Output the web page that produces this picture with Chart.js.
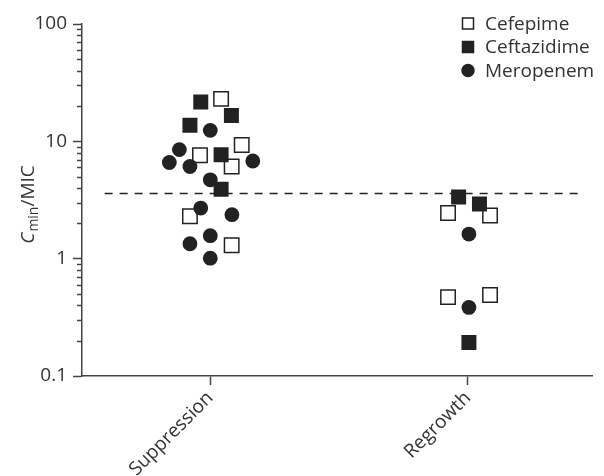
<!DOCTYPE html>
<html>
<head>
<meta charset="utf-8">
<script src="https://cdn.jsdelivr.net/npm/chart.js@4.4.0/dist/chart.umd.min.js"></script>
<style>
	html, body { margin: 0; padding: 0; background: #fff; }
</style>
</head>
<body>
<canvas id="chart" width="604" height="476"></canvas>
<script>
// categories on the x axis (positions 1 and 2)
const categories = ["Suppression", "Regrowth"];
const seriesNames = ["Cefepime", "Ceftazidime", "Meropenem"];

// x = category position plus horizontal scatter, y = Cmin/MIC
const cefepimeX = [1.042, 1.122, 0.960, 1.083, 0.921, 1.083, 1.923, 2.086, 1.923, 2.086];
const cefepimeY = [23.0, 9.3, 7.6, 6.1, 2.3, 1.3, 2.45, 2.33, 0.47, 0.49];

const ceftazidimeX = [0.963, 1.082, 0.921, 1.042, 1.042, 1.964, 2.045, 2.004];
const ceftazidimeY = [21.6, 16.6, 13.7, 7.7, 3.9, 3.36, 2.93, 0.193];

const meropenemX = [1.0, 0.880, 0.841, 0.921, 1.165, 1.0, 0.963, 1.084, 1.0, 0.921, 1.0, 2.004, 2.004];
const meropenemY = [12.4, 8.5, 6.6, 6.1, 6.8, 4.7, 2.7, 2.37, 1.57, 1.34, 1.01, 1.62, 0.384];

// dashed threshold line
const thresholdX = [0.59, 2.43];
const thresholdY = 3.6;

const yTickValues = [0.1, 1, 10, 100];
const yTickLabels = ["0.1", "1", "10", "100"];

const INK = "#222";
const TEXT = "#333";
const FONT = "'Open Sans', sans-serif";
const FONT_SIZE = 19;

function toPoints(xs, ys) {
	return xs.map(function (x, i) { return { x: x, y: ys[i] }; });
}

// minor ticks between decades, drawn shorter than the major ones
const minorTicks = {
	id: "minorTicks",
	afterDraw(chart) {
		const y = chart.scales.y;
		const ctx = chart.ctx;
		ctx.save();
		ctx.strokeStyle = "#444";
		ctx.lineWidth = 1.5;
		for (let i = 0; i < yTickValues.length - 1; i++) {
			for (let k = 2; k < 10; k++) {
				const py = Math.round(y.getPixelForValue(yTickValues[i] * k)) + 0.5;
				ctx.beginPath();
				ctx.moveTo(y.right - 5, py);
				ctx.lineTo(y.right, py);
				ctx.stroke();
			}
		}
		ctx.restore();
	}
};

// y axis title with italic C and subscript "min"
const yTitle = {
	id: "yTitle",
	afterDraw(chart) {
		const ctx = chart.ctx;
		const area = chart.chartArea;
		ctx.save();
		ctx.translate(28, (area.top + area.bottom) / 2 + 5);
		ctx.rotate(-Math.PI / 2);
		ctx.fillStyle = TEXT;
		ctx.textBaseline = "alphabetic";
		const big = FONT_SIZE + "px " + FONT;
		const bigItalic = "italic " + FONT_SIZE + "px " + FONT;
		const small = "14px " + FONT;
		ctx.font = bigItalic; const w1 = ctx.measureText("C").width;
		ctx.font = small; const w2 = ctx.measureText("min").width;
		ctx.font = big; const w3 = ctx.measureText("/MIC").width;
		let x = -(w1 + w2 + w3) / 2;
		ctx.font = bigItalic; ctx.fillText("C", x, 6); x += w1 + 1;
		ctx.font = small; ctx.fillText("min", x, 10); x += w2;
		ctx.font = big; ctx.fillText("/MIC", x, 6);
		ctx.restore();
	}
};

// legend in the top right corner
const cornerLegend = {
	id: "cornerLegend",
	afterDraw(chart) {
		const ctx = chart.ctx;
		ctx.save();
		ctx.font = FONT_SIZE + "px " + FONT;
		ctx.textBaseline = "middle";
		[0, 1, 2].forEach(function (di, row) {
			const ds = chart.data.datasets[di];
			const cy = 23.5 + row * 23.5;
			const cx = 468;
			ctx.lineWidth = 1.5;
			ctx.strokeStyle = INK;
			ctx.fillStyle = ds.backgroundColor;
			ctx.beginPath();
			if (ds.pointStyle === "circle") {
				ctx.arc(cx, cy, 6, 0, Math.PI * 2);
			} else {
				ctx.rect(cx - 5.5, cy - 5.5, 11, 11);
			}
			ctx.fill();
			ctx.stroke();
			ctx.fillStyle = TEXT;
			ctx.fillText(ds.label, 485, cy + 1);
		});
		ctx.restore();
	}
};

new Chart(document.getElementById("chart"), {
	type: "scatter",
	data: {
		datasets: [
			{
				label: seriesNames[0],
				data: toPoints(cefepimeX, cefepimeY),
				pointStyle: "rect",
				radius: 10.2,
				backgroundColor: "#fff",
				borderColor: INK,
				borderWidth: 1.5,
				order: 3
			},
			{
				label: seriesNames[1],
				data: toPoints(ceftazidimeX, ceftazidimeY),
				pointStyle: "rect",
				radius: 10.6,
				backgroundColor: INK,
				borderColor: INK,
				borderWidth: 0,
				order: 1
			},
			{
				label: seriesNames[2],
				data: toPoints(meropenemX, meropenemY),
				pointStyle: "circle",
				radius: 7.4,
				backgroundColor: INK,
				borderColor: INK,
				borderWidth: 0,
				order: 2
			},
			{
				type: "line",
				label: "threshold",
				data: thresholdX.map(function (x) { return { x: x, y: thresholdY }; }),
				borderColor: INK,
				borderWidth: 1.5,
				borderDash: [8, 7],
				pointRadius: 0,
				fill: false,
				order: 4
			}
		]
	},
	options: {
		responsive: false,
		devicePixelRatio: 1,
		animation: false,
		// the rotated x labels reserve 4px on the right; pull the axis back to the edge
		layout: { padding: { left: 0, top: 24, right: -3, bottom: 0 } },
		plugins: {
			legend: { display: false },
			tooltip: { enabled: false }
		},
		scales: {
			x: {
				type: "linear",
				min: 0.502,
				max: 2.483,
				afterBuildTicks(scale) {
					scale.ticks = categories.map(function (c, i) { return { value: i + 1 }; });
				},
				afterFit(scale) { scale.height = 100; },
				ticks: {
					autoSkip: false,
					minRotation: 45,
					maxRotation: 45,
					padding: 2,
					color: TEXT,
					font: { family: FONT, size: FONT_SIZE },
					callback(value) { return categories[Math.round(value) - 1]; }
				},
				grid: { drawOnChartArea: false, tickLength: 9, tickColor: "#444", tickWidth: 1.5 },
				border: { color: "#444", width: 1.5 }
			},
			y: {
				type: "logarithmic",
				min: 0.1,
				max: 100,
				afterBuildTicks(scale) {
					scale.ticks = yTickValues.map(function (v) { return { value: v }; });
				},
				afterFit(scale) { scale.width = 82; },
				ticks: {
					padding: 6,
					color: TEXT,
					font: { family: FONT, size: FONT_SIZE },
					callback(value) {
						const i = yTickValues.indexOf(value);
						return i >= 0 ? yTickLabels[i] : "";
					}
				},
				grid: { drawOnChartArea: false, tickLength: 9, tickColor: "#444", tickWidth: 1.5 },
				border: { color: "#444", width: 1.5 }
			}
		}
	},
	plugins: [minorTicks, yTitle, cornerLegend]
});
</script>
</body>
</html>
